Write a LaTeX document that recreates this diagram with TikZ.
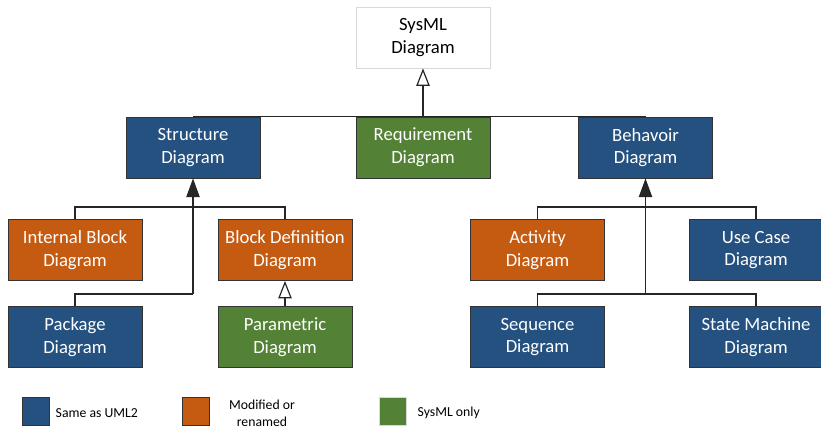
\documentclass[tikz,border=0pt]{standalone}
\usepackage{fontspec}
\setmainfont{Carlito}
\usetikzlibrary{arrows.meta}
\definecolor{umlblue}{RGB}{37,81,128}
\definecolor{modorange}{RGB}{197,90,17}
\definecolor{sysgreen}{RGB}{83,129,53}
\begin{document}
\begin{tikzpicture}[
    x=0.75pt,y=-0.75pt,
    box/.style={draw=black!80,align=center,inner sep=2pt,text=white,
        minimum width=100.5pt,minimum height=46pt,
        font=\fontsize{14}{17}\selectfont},
    same/.style={box,fill=umlblue},
    modified/.style={box,fill=modorange},
    sysonly/.style={box,fill=sysgreen},
    key/.style={draw=black!80,minimum width=20pt,minimum height=21pt,inner sep=0pt},
    keytext/.style={align=center,font=\fontsize{10.3}{13}\selectfont},
    link/.style={draw=black!85,line width=0.9pt},
    openhead/.style={-{Triangle[open,length=13pt,width=10pt]}},
    fullhead/.style={-{Triangle[length=14pt,width=10pt]}}
]
\useasboundingbox (0,0) rectangle (821,428);
% top level
\node[box,draw=black!15,fill=white,text=black] (sysml) at (423,37.5) {SysML\\Diagram};
\node[same] (struct) at (193,147.5) {Structure\\Diagram};
\node[sysonly] (req) at (423,147.5) {Requirement\\Diagram};
\node[same] (behav) at (645.5,147.5) {Behavoir\\Diagram};

% structure branch
\node[modified] (ibd) at (75,250) {Internal Block\\Diagram};
\node[modified] (bdd) at (285,250) {Block Definition\\Diagram};
\node[same] (pkg) at (75,337) {Package\\Diagram};
\node[sysonly] (par) at (285,337) {Parametric\\Diagram};

% behavior branch
\node[modified] (act) at (537.5,250) {Activity\\Diagram};
\node[same] (uc) at (756,250) {Use Case\\Diagram};
\node[same] (seq) at (537.5,337) {Sequence\\Diagram};
\node[same] (stm) at (756,337) {State Machine\\Diagram};

\coordinate (topjoin) at (423,104);
\coordinate (structjoin) at (193,294);
\coordinate (behavjoin) at (645.5,294);

% connectors
\draw[link] (struct.north) |- (behav.north);
\draw[link] (req.north) -- (topjoin);
\draw[link,openhead] (topjoin) -- (sysml.south);

\draw[link] (ibd.north) -- ++(0,-12) -| (bdd.north);
\draw[link] (pkg.north) |- (structjoin);
\draw[link,fullhead] (structjoin) -- (struct.south);
\draw[link,openhead] (par.north) -- (bdd.south);

\draw[link] (act.north) -- ++(0,-12) -| (uc.north);
\draw[link] (seq.north) -- ++(0,-12) -| (stm.north);
\draw[link,fullhead] (behavjoin) -- (behav.south);

% legend
\node[key,fill=umlblue] (keysame) at (35.5,411.5) {};
\node[keytext,anchor=west] (keysametxt) at (51,413) {Same as UML2};
\node[key,fill=modorange] (keymod) at (195.5,411.5) {};
\node[keytext] (keymodtxt) at (262,413) {Modified or\\renamed};
\node[key,draw=black!15,fill=sysgreen] (keysys) at (392.5,411.5) {};
\node[keytext,anchor=west] (keysystxt) at (413,413) {SysML only};
\end{tikzpicture}
\end{document}
